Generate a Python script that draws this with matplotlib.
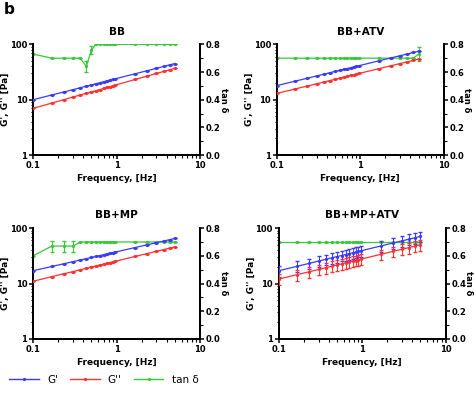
import matplotlib
matplotlib.use("Agg")
import matplotlib.pyplot as plt
from matplotlib.ticker import LogLocator, NullFormatter, FixedLocator

freq = [0.1,0.167,0.233,0.3,0.367,0.433,0.5,0.567,0.633,0.7,0.767,0.833,0.9,0.967,
        1.667,2.333,3.0,3.667,4.333,5.0]

titles = ["BB", "BB+ATV", "BB+MP", "BB+MP+ATV"]
g1 = [
 [10,12.2,13.8,15.2,16.5,17.6,18.5,19.5,20.3,21.1,21.9,22.6,23.2,23.9,29.4,33.5,36.9,39.9,42.6,45],
 [18,21.7,24.5,26.9,28.9,30.8,32.4,33.9,35.3,36.6,37.9,39.0,40.1,41.2,50.3,56.9,62.3,67.0,71.3,75],
 [17,20.3,22.7,24.8,26.6,28.1,29.5,30.8,32.0,33.2,34.2,35.2,36.1,37.0,44.6,50.0,54.6,58.4,61.9,65],
 [17,20.5,23.1,25.4,27.3,29.1,30.6,32.0,33.3,34.6,35.8,36.9,37.9,38.9,47.5,53.7,58.8,63.2,67.3,70.9],
]
g2 = [
 [7,8.7,10.0,11.2,12.2,13.1,13.9,14.6,15.3,16.0,16.7,17.3,17.8,18.4,23.2,26.8,29.8,32.4,34.8,37.0],
 [13,15.7,17.7,19.4,20.9,22.2,23.4,24.5,25.5,26.5,27.4,28.2,29.0,29.8,36.3,41.1,45.0,48.4,51.5,54.2],
 [11,13.3,15.0,16.4,17.7,18.8,19.8,20.7,21.6,22.4,23.1,23.9,24.5,25.2,30.8,34.8,38.1,40.9,43.6,45.9],
 [12,14.5,16.3,17.9,19.3,20.5,21.6,22.6,23.5,24.4,25.2,26.0,26.8,27.5,33.6,37.9,41.5,44.6,47.5,50.0],
]
rel_err = [0.0, 0.0, 0.0, 0.22]
tan = [
 [0.73,0.70,0.70,0.70,0.70,0.64,0.76]+[0.80]*13,
 [0.70]*19+[0.73],
 [0.60,0.67,0.67,0.67]+[0.70]*16,
 [0.70]*20,
]
tan_err = [
 [0,0,0,0,0,0.04,0.03]+[0]*13,
 [0]*19+[0.05],
 [0,0.04,0.04,0.04]+[0]*16,
 [0]*20,
]

blue, red, green = "#3a3aff", "#ff3030", "#38c838"
fig = plt.figure(figsize=(4.74, 4.03), dpi=100)
pos = [(0.070, 0.615), (0.584, 0.615), (0.070, 0.159), (0.588, 0.159)]
W, H = 0.352, 0.275
fs = 6
for i in range(4):
    ax = fig.add_axes([pos[i][0], pos[i][1], W, H])
    ax2 = ax.twinx()
    e1 = [v * rel_err[i] for v in g1[i]]
    e2 = [v * rel_err[i] for v in g2[i]]
    ax2.errorbar(freq, tan[i], yerr=tan_err[i], color=green, lw=0.9, marker='o', ms=1.3, capsize=1.5, elinewidth=0.8)
    ax.errorbar(freq, g1[i], yerr=e1, color=blue, lw=0.9, marker='o', ms=1.3, capsize=1.2, elinewidth=0.7, zorder=3)
    ax.errorbar(freq, g2[i], yerr=e2, color=red, lw=0.9, marker='o', ms=1.3, capsize=1.2, elinewidth=0.7, zorder=3)
    ax.set_zorder(ax2.get_zorder() + 1); ax.patch.set_visible(False)
    ax.set_xscale('log'); ax.set_yscale('log')
    ax.set_xlim(0.1, 10); ax.set_ylim(1, 100)
    ax2.set_ylim(0, 0.8); ax2.set_yticks([0, 0.2, 0.4, 0.6, 0.8])
    ax2.set_yticklabels(["0.0", "0.2", "0.4", "0.6", "0.8"])
    ax.set_xticks([0.1, 1, 10]); ax.set_xticklabels(["0.1", "1", "10"])
    ax.set_yticks([1, 10, 100]); ax.set_yticklabels(["1", "10", "100"])
    ax.xaxis.set_minor_locator(LogLocator(subs=range(2, 10)))
    ax.yaxis.set_minor_locator(LogLocator(subs=range(2, 10)))
    ax.xaxis.set_minor_formatter(NullFormatter()); ax.yaxis.set_minor_formatter(NullFormatter())
    ax2.yaxis.set_minor_locator(FixedLocator([0.1, 0.3, 0.5, 0.7]))
    for a in (ax, ax2):
        a.spines['top'].set_visible(False)
        for s in ('left', 'right', 'bottom'):
            a.spines[s].set_linewidth(1.3)
        a.tick_params(which='major', length=3, width=1.1, labelsize=fs, pad=1.2)
        a.tick_params(which='minor', length=1.8, width=0.8)
        for t in a.get_xticklabels() + a.get_yticklabels():
            t.set_fontweight('bold')
    ax.set_xlabel("Frequency, [Hz]", fontsize=6.5, fontweight='bold', labelpad=3)
    ax.set_ylabel("G', G'' [Pa]", fontsize=6.5, fontweight='bold', labelpad=0)
    ax2.set_ylabel("tan δ", fontsize=6, fontweight='bold', rotation=270, labelpad=5)
    ax.set_title(titles[i], fontsize=7.5, fontweight='bold', pad=7)

fig.text(0.008, 0.965, "b", fontsize=11, fontweight='bold')
handles = [plt.Line2D([], [], color=c, lw=1, marker='o', ms=1.3) for c in (blue, red, green)]
fig.legend(handles, ["G'", "G''", "tan δ"], loc='center left', bbox_to_anchor=(0.0, 0.057),
           ncol=3, frameon=False, fontsize=7.5, handlelength=2.8, columnspacing=1.2)
fig.savefig("out.png", dpi=100)
